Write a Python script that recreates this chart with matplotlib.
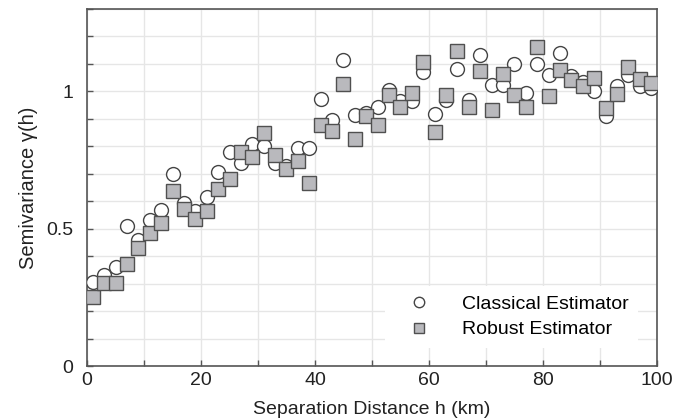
import matplotlib
matplotlib.use("Agg")
import matplotlib.pyplot as plt
from matplotlib.ticker import MultipleLocator

plt.rcParams['font.family'] = ['Liberation Sans', 'DejaVu Sans']

distance = list(range(1, 100, 2))
classical = [0.307, 0.332, 0.360, 0.510, 0.459, 0.530, 0.569, 0.699, 0.595, 0.563,
             0.615, 0.708, 0.778, 0.739, 0.809, 0.802, 0.738, 0.730, 0.794, 0.794,
             0.972, 0.897, 1.113, 0.915, 0.921, 0.942, 1.006, 0.964, 0.964, 1.072,
             0.919, 0.970, 1.083, 0.970, 1.131, 1.022, 1.024, 1.100, 0.996, 1.101,
             1.061, 1.140, 1.055, 1.036, 1.000, 0.912, 1.018, 1.061, 1.018, 1.012]
robust = [0.253, 0.304, 0.304, 0.372, 0.430, 0.486, 0.522, 0.639, 0.573, 0.537,
          0.564, 0.645, 0.682, 0.781, 0.760, 0.850, 0.769, 0.718, 0.745, 0.666,
          0.876, 0.854, 1.028, 0.828, 0.911, 0.879, 0.988, 0.943, 0.996, 1.106,
          0.851, 0.988, 1.146, 0.943, 1.073, 0.931, 1.065, 0.988, 0.943, 1.160,
          0.982, 1.079, 1.040, 1.018, 1.049, 0.939, 0.990, 1.089, 1.045, 1.031]

fig = plt.figure(figsize=(6.75, 4.18), dpi=100)
ax = fig.add_axes([0.129, 0.1244, 0.844, 0.854])

ax.plot(distance, classical, linestyle='none', marker='o', markersize=10,
        markerfacecolor='white', markeredgecolor='#444444', markeredgewidth=1.0,
        label='Classical Estimator', zorder=3)
ax.plot(distance, robust, linestyle='none', marker='s', markersize=10,
        markerfacecolor='#b9b9bd', markeredgecolor='#505050', markeredgewidth=1.0,
        label='Robust Estimator', zorder=4)

ax.set_xlim(0, 100)
ax.set_ylim(0, 1.3)
ax.xaxis.set_major_locator(MultipleLocator(20))
ax.xaxis.set_minor_locator(MultipleLocator(10))
ax.yaxis.set_major_locator(MultipleLocator(0.5))
ax.yaxis.set_minor_locator(MultipleLocator(0.1))
ax.set_yticks([0, 0.5, 1])
ax.set_yticklabels(['0', '0.5', '1'])
ax.set_xticks([0, 20, 40, 60, 80, 100])

ax.grid(True, which='both', color='#e6e6e6', linewidth=1.0, zorder=0)
ax.set_axisbelow(True)
ax.tick_params(which='both', direction='in', length=4, width=1, color='#555555',
               labelsize=14, labelcolor='#222222', top=False, right=False)
ax.tick_params(axis='x', which='both', pad=4)
ax.tick_params(axis='y', which='both', pad=10)
for s in ax.spines.values():
    s.set_color('#555555')
    s.set_linewidth(1.2)

ax.set_xlabel('Separation Distance h (km)', fontsize=14, color='#222222', labelpad=9)
ax.set_ylabel('Semivariance γ(h)', fontsize=14.5, color='#222222', labelpad=6)

leg = ax.legend(loc='lower right', bbox_to_anchor=(0.967, 0.05), borderaxespad=0,
                frameon=True, fancybox=False, edgecolor='none', framealpha=1,
                fontsize=14, markerscale=0.75, handletextpad=0.95,
                borderpad=0.5, labelspacing=0.4, handlelength=2.5)
leg.set_zorder(5)

fig.savefig('out.png', dpi=100)
